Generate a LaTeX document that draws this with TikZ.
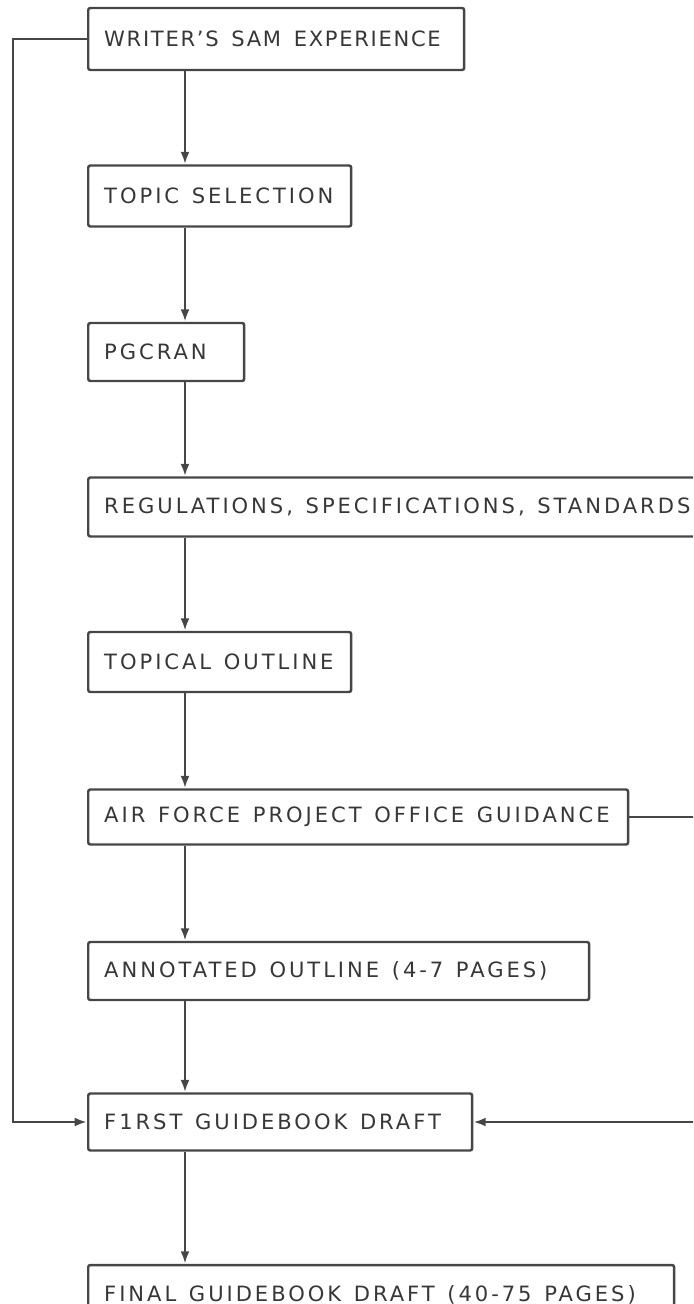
\documentclass[tikz,border=0pt]{standalone}
\usepackage{fontspec}
\setmainfont{DejaVu Sans}[LetterSpace=14]
\usepackage{tikz}
\usetikzlibrary{shapes, positioning}
\usetikzlibrary{calc}
\usetikzlibrary{arrows.meta}
\definecolor{inkgray}{RGB}{70,70,70}
\definecolor{textgray}{RGB}{55,55,55}
\newcommand{\stagefont}{\fontsize{12}{14}\selectfont}
\newcommand{\stagespace}{\spaceskip=0.6em plus 0.1em\relax}

\begin{document}
\begin{tikzpicture}[x=0.02cm, y=-0.02cm,
		stage/.style={draw=inkgray, line width=1.4pt, rounded corners=1.2pt, anchor=west, align=left, inner xsep=0.32cm, inner ysep=0pt, minimum height=1.18cm, text=textgray, font=\stagefont, execute at begin node=\stagespace},
		link/.style={draw=inkgray, line width=1.3pt, -{Latex[length=7pt, width=5pt]}}]
		\useasboundingbox (0,0) rectangle (693,1304);
		\clip (0,0) rectangle (693,1304);
		\node[stage, text width=6.88cm, minimum height=1.24cm, font={\stagefont\addfontfeature{LetterSpace=8}}] (write) at (87,39) {WRITER'S SAM EXPERIENCE};
		\node[stage, text width=4.62cm, minimum height=1.22cm] (topic) at (87,196) {TOPIC SELECTION};
		\node[stage, text width=2.48cm, minimum height=1.16cm] (pgcran) at (87,352) {PGCRAN};
		\node[stage, text width=12.02cm] (regs) at (87,507) {REGULATIONS, SPECIFICATIONS, STANDARDS};
		\node[stage, text width=4.62cm, minimum height=1.2cm] (topical) at (87,662) {TOPICAL OUTLINE};
		\node[stage, text width=10.16cm, minimum height=1.1cm] (office) at (87,817) {AIR FORCE PROJECT OFFICE GUIDANCE};
		\node[stage, text width=9.38cm, minimum height=1.16cm] (annot) at (87,971) {ANNOTATED OUTLINE (4-7 PAGES)};
		\node[stage, text width=7.04cm, minimum height=1.14cm] (first) at (87,1122) {F1RST GUIDEBOOK DRAFT};
		\node[stage, text width=11.08cm, minimum height=1.2cm] (final) at (87,1295) {FINAL GUIDEBOOK DRAFT (40-75 PAGES)};
		\coordinate (spine) at (185,0);
		\coordinate (lft) at (13,0);
		\coordinate (rgt) at (710,0);
		\foreach \a/\b in {write/topic, topic/pgcran, pgcran/regs, regs/topical, topical/office, office/annot, annot/first, first/final} {
			\draw[link] (\a.south -| spine) -- (\b.north -| spine);
		}
		\draw[link] (write.west) -- (write.west -| lft) |- (first.west);
		\draw[link] (office.east) -- (office.east -| rgt) |- (first.east);
	\end{tikzpicture}
\end{document}
